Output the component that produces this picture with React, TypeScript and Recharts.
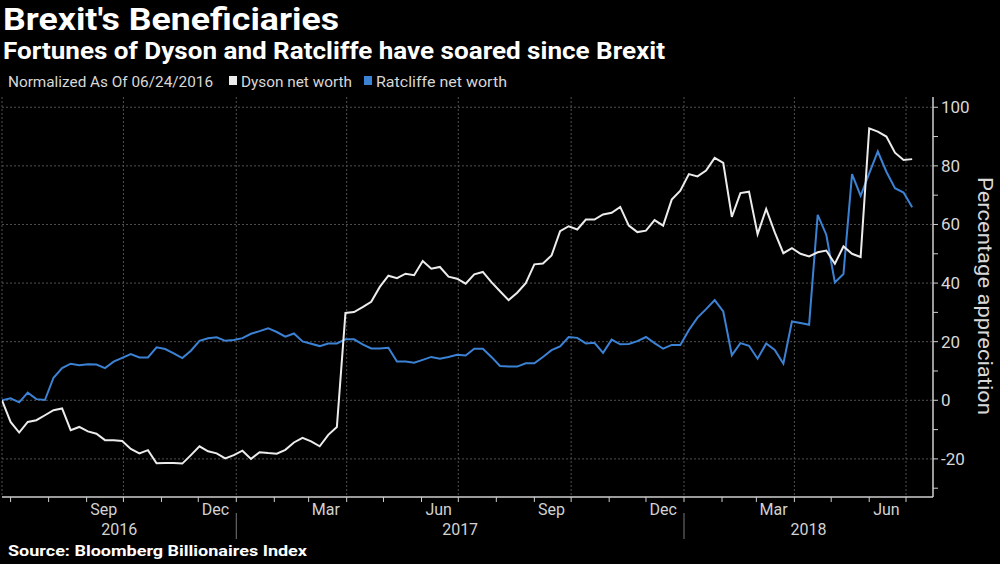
import React from 'react';
import { CartesianGrid, Line, LineChart, XAxis, YAxis } from 'recharts';

// weekly readings, starting 06/24/2016 (% change since that date)
const START = '2016-06-24';
const dyson = [
  0, -7.4, -11, -7.4, -6.8, -5.1, -3.4, -2.8, -10.2, -9.1,
  -10.6, -11.4, -13.6, -13.6, -13.9, -16.6, -18.1, -17, -21.5, -21.4,
  -21.4, -21.6, -18.7, -15.7, -17.4, -18.1, -19.8, -18.7, -17.2, -20,
  -17.7, -18, -18.2, -16.9, -14.4, -12.8, -14, -15.7, -11.8, -9.1,
  29.8, 30.1, 31.8, 33.6, 38.7, 42.5, 41.7, 43.2, 42.7, 47.5,
  44.9, 45.5, 42.2, 41.5, 39.8, 43, 43.8, 40.3, 37.2, 34.2,
  36.7, 40, 46.4, 46.7, 49.4, 57.7, 59.4, 58.3, 61.7, 61.7,
  63.4, 64, 66, 59.6, 57.4, 57.9, 61.5, 59.6, 68.5, 71.5,
  77.2, 76.4, 78.4, 82.7, 81, 62.6, 70.7, 71.2, 56.7, 65.3,
  57.3, 50.2, 51.9, 50, 49.1, 50.5, 51.1, 46.6, 52.5, 50,
  48.9, 92.8, 91.7, 90, 84.5, 82, 82.3,
];
const ratcliffe = [
  0, 0.7, -0.7, 2.6, 0.4, 0.1, 7.7, 11, 12.5, 12,
  12.3, 12.2, 11, 13.2, 14.5, 15.8, 14.6, 14.6, 18.1, 17.5,
  16, 14.4, 16.9, 20.3, 21.2, 21.5, 20.3, 20.6, 21.2, 22.7,
  23.6, 24.6, 23.3, 21.7, 22.8, 20.1, 19.3, 18.5, 19.4, 19.4,
  20.8, 20.8, 19.1, 17.7, 17.7, 17.9, 13.2, 13.2, 12.8, 13.8,
  14.8, 14.2, 14.8, 15.5, 15.3, 17.6, 17.6, 14.8, 11.7, 11.5,
  11.5, 12.6, 12.6, 14.8, 17.1, 18.4, 21.6, 21.3, 19.4, 19.6,
  16.2, 20.7, 19.1, 19.2, 20.2, 21.6, 19.5, 17.6, 18.9, 18.9,
  24, 28.2, 31.1, 34.2, 30.3, 15.4, 19.5, 18.6, 14.2, 19.4,
  17.2, 12.5, 26.9, 26.4, 25.8, 63.3, 56.5, 40.2, 43.1, 77.2,
  69.8, 77.4, 84.9, 78, 72.4, 70.9, 65.9,
];

const monthLabels = ['Sep', 'Dec', 'Mar', 'Jun', 'Sep', 'Dec', 'Mar', 'Jun'];
const monthLabelDates = [
  '2016-09-15', '2016-12-15', '2017-03-15', '2017-06-15',
  '2017-09-15', '2017-12-15', '2018-03-15', '2018-06-15',
];
const quarterDates = [
  '2016-10-01', '2017-01-01', '2017-04-01', '2017-07-01',
  '2017-10-01', '2018-01-01', '2018-04-01', '2018-07-01',
];
const years = ['2016', '2017', '2018'];
const yearStarts = ['2017-01-01', '2018-01-01'];
const yTicks = [-30, -20, -10, 0, 10, 20, 30, 40, 50, 60, 70, 80, 90, 100];
const yGrid = [-20, 0, 20, 40, 60, 80, 100];

const X_MAX = 759;
const BLUE = '#3c82d4';
const WHITE = '#ececec';
const AXIS = '#cfcfcf';
const FONT = 'Roboto, "Open Sans", sans-serif';

const dayOf = (d: string) => (Date.parse(d) - Date.parse(START)) / 86400000;

const data = dyson.map((v, i) => ({ day: i * 7, dyson: v, ratcliffe: ratcliffe[i] }));

// month start ticks (small marks) + mid-month labels
const monthStarts: number[] = [];
for (let y = 2016; y <= 2018; y++) {
  for (let m = 0; m < 12; m++) {
    const d = dayOf(`${y}-${String(m + 1).padStart(2, '0')}-01`);
    if (d > 0 && d < X_MAX) monthStarts.push(d);
  }
}
const labelDays = monthLabelDates.map(dayOf);
const boundaryDays = yearStarts.map(dayOf);
const yearEdges = [0, ...boundaryDays, X_MAX];
const yearCenters = years.map((_, i) => (yearEdges[i] + yearEdges[i + 1]) / 2);

function MonthTick({ x, y, payload }: any) {
  const idx = labelDays.indexOf(payload.value);
  if (idx >= 0) {
    return (
      <text x={x} y={y + 18} textAnchor="middle" fill="#d2d2d2" fontSize={16} fontFamily={FONT}>
        {monthLabels[idx]}
      </text>
    );
  }
  return <line x1={x} x2={x} y1={y} y2={y + 5} stroke={AXIS} strokeWidth={1} />;
}

function YearTick({ x, y, payload }: any) {
  const idx = yearCenters.indexOf(payload.value);
  if (idx >= 0) {
    return (
      <text x={x} y={y + 18} textAnchor="middle" fill="#d2d2d2" fontSize={16} fontFamily={FONT}>
        {years[idx]}
      </text>
    );
  }
  return <line x1={x} x2={x} y1={y - 4} y2={y + 22} stroke="#777" strokeWidth={1} />;
}

function ValueTick({ x, y, payload }: any) {
  const v = payload.value;
  return (
    <g>
      <line x1={x} x2={x + 5} y1={y} y2={y} stroke={AXIS} strokeWidth={1} />
      {v % 20 === 0 && (
        <text x={x + 8} y={y + 6} textAnchor="start" fill="#d8d8d8" fontSize={17} fontFamily={FONT}>
          {v}
        </text>
      )}
    </g>
  );
}

export default function App() {
  return (
    <div
      style={{
        position: 'absolute',
        left: 0,
        top: 0,
        width: 1000,
        height: 564,
        background: '#000',
        overflow: 'hidden',
      }}
    >
      <svg width={1000} height={95} style={{ position: 'absolute', left: 0, top: 0 }}>
        <text x={3} y={30} fill="#fff" fontSize={32} fontWeight={700} fontFamily={FONT}
          textLength={336} lengthAdjust="spacingAndGlyphs">
          Brexit's Beneficiaries
        </text>
        <text x={3} y={59} fill="#fff" fontSize={24} fontWeight={700} fontFamily={FONT}
          textLength={662} lengthAdjust="spacingAndGlyphs">
          Fortunes of Dyson and Ratcliffe have soared since Brexit
        </text>
        <text x={8} y={87} fill="#d8d8d8" fontSize={15} fontFamily={FONT}
          textLength={205} lengthAdjust="spacingAndGlyphs">
          Normalized As Of 06/24/2016
        </text>
        <rect x={229} y={76} width={8} height={9} fill={WHITE} />
        <text x={241} y={87} fill="#d8d8d8" fontSize={15} fontFamily={FONT}
          textLength={111} lengthAdjust="spacingAndGlyphs">
          Dyson net worth
        </text>
        <rect x={364} y={76} width={8} height={9} fill={BLUE} />
        <text x={376} y={87} fill="#d8d8d8" fontSize={15} fontFamily={FONT}
          textLength={131} lengthAdjust="spacingAndGlyphs">
          Ratcliffe net worth
        </text>
      </svg>

      <div style={{ position: 'absolute', left: 0, top: 0 }}>
        <LineChart
          width={1000}
          height={564}
          data={data}
          margin={{ top: 97, right: 0, left: 2, bottom: 25 }}
        >
          <CartesianGrid
            stroke="#4f4f4f"
            strokeDasharray="2 2"
            horizontalValues={yGrid}
            verticalValues={[0, ...quarterDates.map(dayOf)]}
          />
          <XAxis
            dataKey="day"
            type="number"
            domain={[0, X_MAX]}
            allowDataOverflow
            ticks={[...monthStarts, ...labelDays]}
            interval={0}
            tick={<MonthTick />}
            tickLine={false}
            tickSize={0}
            tickMargin={0}
            axisLine={{ stroke: AXIS, strokeWidth: 1.5 }}
            height={20}
          />
          <XAxis
            xAxisId="year"
            dataKey="day"
            type="number"
            domain={[0, X_MAX]}
            allowDataOverflow
            ticks={[...boundaryDays, ...yearCenters]}
            interval={0}
            tick={<YearTick />}
            tickLine={false}
            tickSize={0}
            tickMargin={0}
            axisLine={false}
            height={22}
          />
          <YAxis
            orientation="right"
            type="number"
            domain={[-33, 103.5]}
            allowDataOverflow
            ticks={yTicks}
            interval={0}
            tick={<ValueTick />}
            tickLine={false}
            tickSize={0}
            tickMargin={0}
            axisLine={{ stroke: AXIS, strokeWidth: 1.5 }}
            width={67}
          />
          <Line
            type="linear"
            dataKey="ratcliffe"
            stroke={BLUE}
            strokeWidth={2}
            dot={false}
            isAnimationActive={false}
          />
          <Line
            type="linear"
            dataKey="dyson"
            stroke={WHITE}
            strokeWidth={2}
            dot={false}
            isAnimationActive={false}
          />
        </LineChart>
      </div>

      <svg width={1000} height={564} style={{ position: 'absolute', left: 0, top: 0, pointerEvents: 'none' }}>
        <text
          x={0}
          y={0}
          transform="translate(978 296) rotate(90)"
          textAnchor="middle"
          fill="#d8d8d8"
          fontSize={20}
          fontFamily={FONT}
          textLength={238}
          lengthAdjust="spacingAndGlyphs"
        >
          Percentage appreciation
        </text>
        <text x={8} y={556} fill="#fff" fontSize={15} fontWeight={700} fontFamily={FONT}
          textLength={299} lengthAdjust="spacingAndGlyphs">
          Source: Bloomberg Billionaires Index
        </text>
      </svg>
    </div>
  );
}
